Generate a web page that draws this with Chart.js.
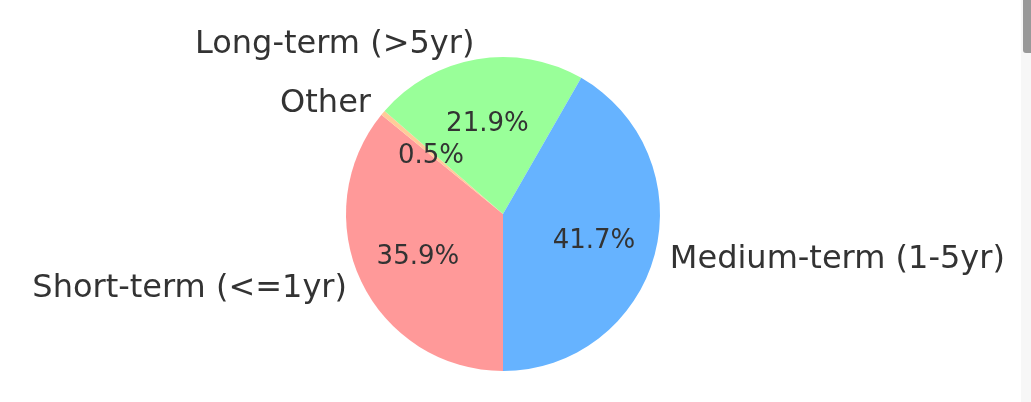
<!DOCTYPE html>
<html>
<head>
<meta charset="utf-8">
<script src="https://cdn.jsdelivr.net/npm/chart.js@4/dist/chart.umd.min.js"></script>
<style>
  html, body { margin: 0; padding: 0; background: #fff; overflow: hidden; }
  #chart-parent { position: relative; width: 1031px; height: 402px; }
  #track { position: absolute; right: 0; top: 0; width: 10px; height: 402px; background: #f7f7f7; }
  #thumb { position: absolute; right: 0; top: 0; width: 8px; height: 53px; background: #999; border-bottom-left-radius: 3px; }
</style>
</head>
<body>
<div id="chart-parent">
  <canvas id="chart"></canvas>
  <div id="track"></div>
  <div id="thumb"></div>
</div>
<script>
// slices listed clockwise from the bottom of the pie
var labels = ['Short-term (<=1yr)', 'Other', 'Long-term (>5yr)', 'Medium-term (1-5yr)'];
var values = [35.9, 0.5, 21.9, 41.7];
var colors = ['#ff9999', '#ffcc99', '#99ff99', '#66b3ff'];

var textColor = '#333333';
var fontName = '"DejaVu Sans", sans-serif';

var pieLabels = {
  id: 'pieLabels',
  afterDatasetsDraw: function(chart) {
    var ctx = chart.ctx;
    var meta = chart.getDatasetMeta(0);
    var total = values.reduce(function(a, b) { return a + b; }, 0);
    ctx.save();
    ctx.fillStyle = textColor;
    ctx.textBaseline = 'alphabetic';
    meta.data.forEach(function(arc, i) {
      var mid = (arc.startAngle + arc.endAngle) / 2;
      var r = arc.outerRadius;
      var cx = Math.cos(mid), cy = Math.sin(mid);

      // outer label
      ctx.font = '32px ' + fontName;
      ctx.textAlign = cx >= 0 ? 'left' : 'right';
      ctx.fillText(labels[i], arc.x + 1.1 * r * cx, arc.y + 1.1 * r * cy + 9);

      // percentage
      ctx.font = '26px ' + fontName;
      ctx.textAlign = 'center';
      var pct = (values[i] / total * 100).toFixed(1) + '%';
      ctx.fillText(pct, arc.x + 0.6 * r * cx, arc.y + 0.6 * r * cy + 10);
    });
    ctx.restore();
  }
};

new Chart(document.getElementById('chart'), {
  type: 'pie',
  data: {
    labels: labels,
    datasets: [{
      data: values,
      backgroundColor: colors,
      borderWidth: 0,
      hoverOffset: 0,
      radius: 157
    }]
  },
  options: {
    responsive: true,
    maintainAspectRatio: false,
    animation: false,
    rotation: 180,
    layout: { padding: { top: 57, bottom: 31, left: 0, right: 25 } },
    plugins: {
      legend: { display: false },
      tooltip: { enabled: false }
    }
  },
  plugins: [pieLabels]
});
</script>
</body>
</html>
